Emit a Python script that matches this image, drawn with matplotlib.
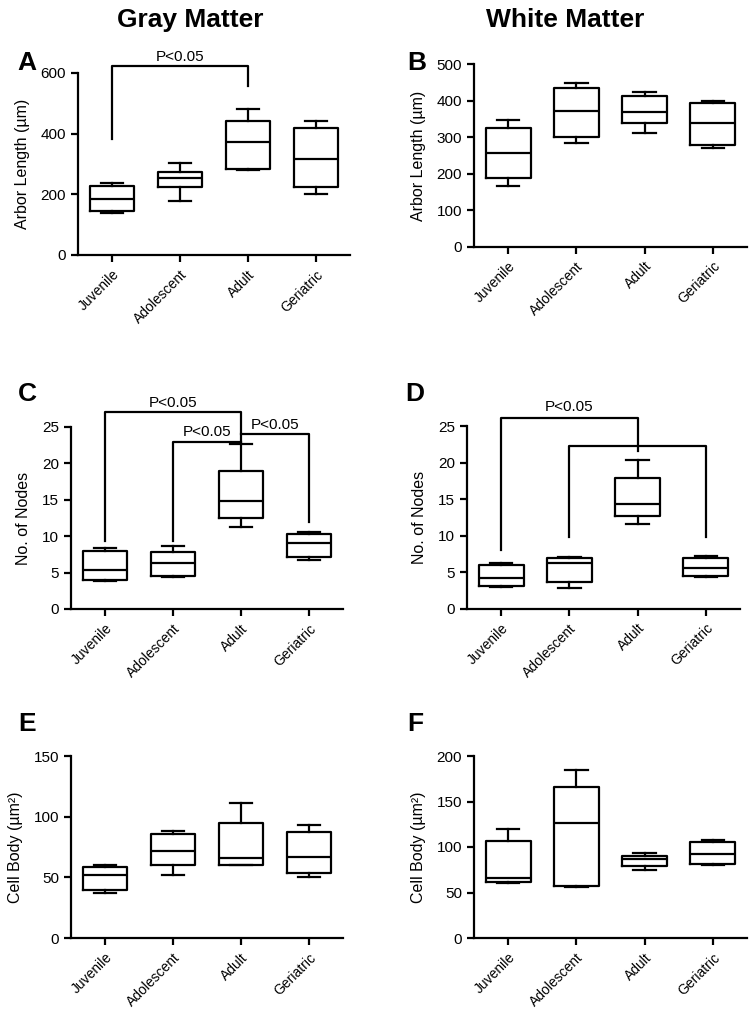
import matplotlib
matplotlib.use("Agg")
import matplotlib.pyplot as plt

plt.rcParams['font.family'] = ['Liberation Sans', 'DejaVu Sans']

# === DATA ===================================================================
groups = ["Juvenile", "Adolescent", "Adult", "Geriatric"]

# each row: whisker low, Q1, median, Q3, whisker high
gray_length = [[138, 146, 185, 228, 237],
               [178, 223, 255, 273, 303],
               [280, 283, 374, 443, 480],
               [200, 223, 318, 418, 443]]
white_length = [[167, 188, 256, 325, 347],
                [283, 302, 372, 434, 450],
                [311, 338, 370, 413, 424],
                [271, 278, 340, 394, 399]]
gray_nodes = [[3.9, 4.0, 5.3, 7.9, 8.4],
              [4.4, 4.5, 6.3, 7.8, 8.7],
              [11.2, 12.5, 14.9, 18.9, 22.6],
              [6.7, 7.2, 9.0, 10.3, 10.6]]
white_nodes = [[3.0, 3.1, 4.2, 6.0, 6.25],
               [2.9, 3.7, 6.2, 7.0, 7.1],
               [11.6, 12.7, 14.3, 17.9, 20.3],
               [4.3, 4.5, 5.6, 7.0, 7.25]]
gray_soma = [[36.8, 39.8, 52.2, 58.5, 60.4],
             [52.2, 60.4, 72.0, 86.0, 87.9],
             [59.9, 60.2, 65.9, 94.5, 111.3],
             [50.0, 53.6, 66.8, 87.4, 93.1]]
white_soma = [[60.6, 61.3, 66.4, 106.4, 119.3],
              [55.8, 57.6, 126.2, 165.9, 184.6],
              [74.5, 79.3, 87.0, 90.3, 93.2],
              [80.7, 81.5, 92.1, 105.3, 107.5]]

# significance brackets: (left group, right group, left foot, top, right foot, label)
sig_A = [(0, 2, 382, 622, 556, "P<0.05")]
sig_C = [(0, 2, 9.4, 27.0, 23.0, "P<0.05"),
         (1, 2, 9.3, 23.0, 23.0, "P<0.05"),
         (2, 3, 24.0, 24.0, 11.9, "P<0.05")]
sig_D = [(0, 2, 8.1, 26.1, 21.6, "P<0.05"),
         (1, 3, 9.85, 22.2, 9.85, "")]

# ============================================================================
LW = 1.6

fig = plt.figure(figsize=(7.55, 10.09), dpi=100)


def box_panel(rect, data, ylim, yticks, ylabel):
    ax = fig.add_axes(rect)
    stats = [dict(whislo=d[0], q1=d[1], med=d[2], q3=d[3], whishi=d[4], fliers=[])
             for d in data]
    ax.bxp(stats, positions=range(len(data)), widths=0.66, showfliers=False,
           boxprops=dict(color="black", lw=LW),
           medianprops=dict(color="black", lw=LW),
           whiskerprops=dict(color="black", lw=LW),
           capprops=dict(color="black", lw=LW))
    ax.set_xlim(-0.5, 3.5)
    ax.set_ylim(*ylim)
    ax.set_yticks(yticks)
    ax.set_xticks(range(len(groups)))
    ax.set_xticklabels(groups, rotation=45, ha="right", rotation_mode="anchor",
                       fontsize=10)
    ax.tick_params(axis="y", labelsize=11, width=LW, length=5, direction="out")
    ax.tick_params(axis="x", width=LW, length=5, direction="out", pad=4)
    ax.set_ylabel(ylabel, fontsize=11.5, labelpad=8)
    for s in ["top", "right"]:
        ax.spines[s].set_visible(False)
    for s in ["left", "bottom"]:
        ax.spines[s].set_linewidth(LW)
    return ax


def brackets(ax, sigs, dy):
    for a, b, ya, top, yb, lab in sigs:
        ax.plot([a, a, b, b], [ya, top, top, yb], color="black", lw=LW,
                clip_on=False)
        if lab:
            ax.text((a + b) / 2, top + dy, lab, ha="center", va="bottom",
                    fontsize=11)


axA = box_panel([78/755, 1 - 255/1009, 272/755, 182/1009], gray_length,
                (0, 600), [0, 200, 400, 600], "Arbor Length (µm)")
brackets(axA, sig_A, 8)
axB = box_panel([474/755, 1 - 246.7/1009, 273/755, 182.4/1009], white_length,
                (0, 500), [0, 100, 200, 300, 400, 500], "Arbor Length (µm)")
axC = box_panel([71/755, 1 - 609/1009, 272/755, 182/1009], gray_nodes,
                (0, 25), [0, 5, 10, 15, 20, 25], "No. of Nodes")
brackets(axC, sig_C, 0.3)
axD = box_panel([467/755, 1 - 608.7/1009, 273/755, 182.7/1009], white_nodes,
                (0, 25), [0, 5, 10, 15, 20, 25], "No. of Nodes")
brackets(axD, sig_D, 0.6)
axE = box_panel([71/755, 1 - 938/1009, 272/755, 182/1009], gray_soma,
                (0, 150), [0, 50, 100, 150], "Cell Body (µm²)")
axF = box_panel([474/755, 1 - 938/1009, 273/755, 182/1009], white_soma,
                (0, 200), [0, 50, 100, 150, 200], "Cell Body (µm²)")

# column titles and panel letters
fig.text(190/755, 1 - 20/1009, "Gray Matter", ha="center", va="center",
         fontsize=19, fontweight="bold")
fig.text(565/755, 1 - 20/1009, "White Matter", ha="center", va="center",
         fontsize=19, fontweight="bold")
for lab, x, y in [("A", 27, 63), ("B", 417, 63), ("C", 27, 394),
                  ("D", 415, 394), ("E", 27, 724), ("F", 415, 724)]:
    fig.text(x/755, 1 - y/1009, lab, ha="center", va="center",
             fontsize=19, fontweight="bold")

fig.savefig("out.png", dpi=100)
